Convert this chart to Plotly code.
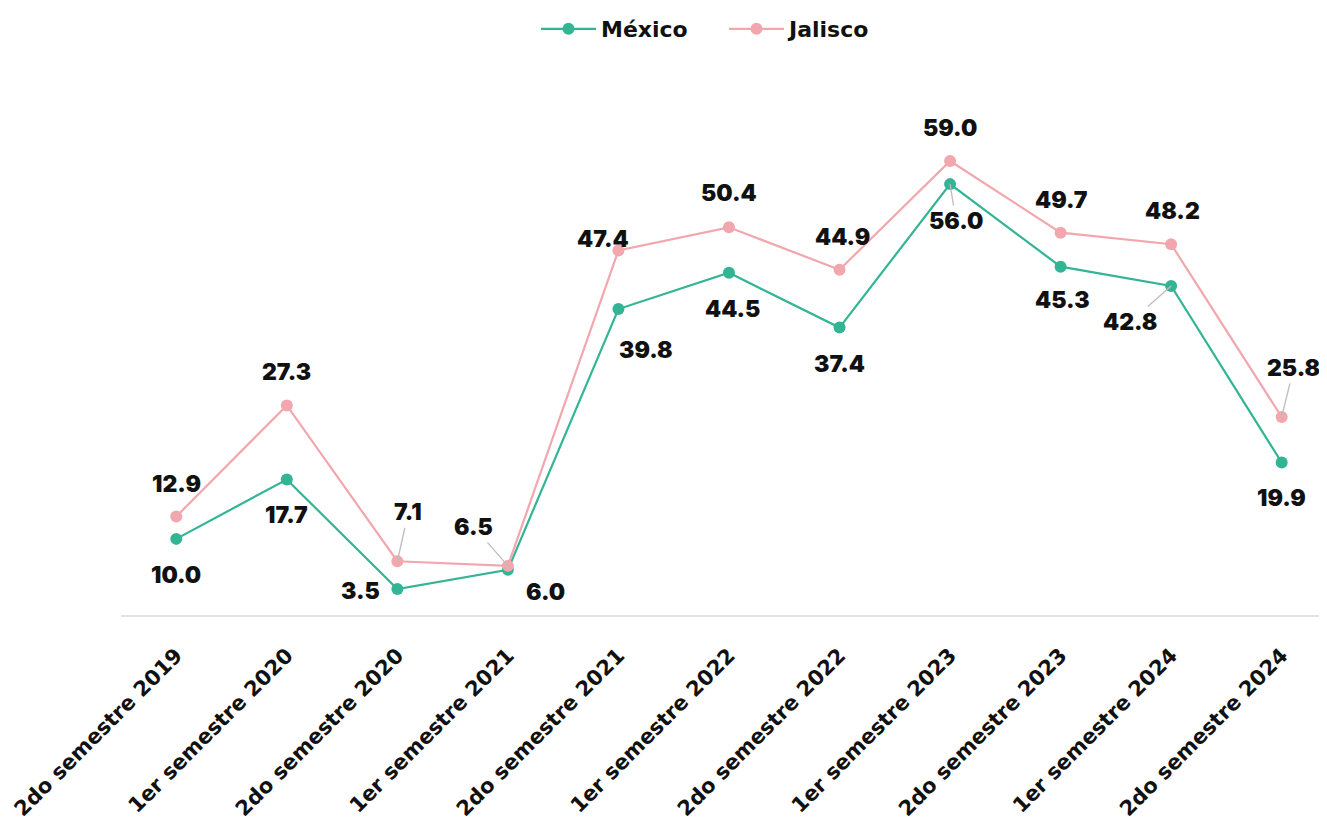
import plotly.graph_objects as go

categories = ["2do semestre 2019", "1er semestre 2020", "2do semestre 2020", "1er semestre 2021",
              "2do semestre 2021", "1er semestre 2022", "2do semestre 2022", "1er semestre 2023",
              "2do semestre 2023", "1er semestre 2024", "2do semestre 2024"]
mexico = [10.0, 17.7, 3.5, 6.0, 39.8, 44.5, 37.4, 56.0, 45.3, 42.8, 19.9]
jalisco = [12.9, 27.3, 7.1, 6.5, 47.4, 50.4, 44.9, 59.0, 49.7, 48.2, 25.8]

TEAL = "#33b595"
PINK = "#f1a7ad"
FONT = "Inter"
WIDE = "DejaVu Sans"

# label offsets (pixels): (dx, dy, leader)
mex_off = [(0, 36, False), (0, 36, False), (-37, 2, False), (38, 22, False), (28, 41, True),
           (4, 36, False), (0, 36, False), (6, 37, True), (2, 33, False), (-41, 36, True), (0, 35, False)]
jal_off = [(0, -33, False), (0, -33, False), (11, -49, True), (-34, -39, True), (-15, -11, False),
           (0, -34, False), (3, -33, False), (0, -33, False), (1, -33, False), (1, -33, False), (12, -49, True)]

fig = go.Figure()
fig.add_trace(go.Scatter(x=categories, y=mexico, name="México", mode="lines+markers",
                         line=dict(color=TEAL, width=2.2),
                         marker=dict(color=TEAL, size=12, line=dict(width=0))))
fig.add_trace(go.Scatter(x=categories, y=jalisco, name="Jalisco", mode="lines+markers",
                         line=dict(color=PINK, width=2.2),
                         marker=dict(color=PINK, size=12, line=dict(width=0))))

LBL = dict(family=FONT, size=23, color="#111111", weight=900)
ann = []
for vals, offs in ((mexico, mex_off), (jalisco, jal_off)):
    for c, v, (dx, dy, lead) in zip(categories, vals, offs):
        txt = f"{v:.1f}"
        if lead:
            ann.append(dict(x=c, y=v, text=txt, showarrow=True, arrowhead=0, arrowwidth=1.3,
                            arrowcolor="#bdbdbd", ax=dx, ay=dy, standoff=0, font=LBL))
        else:
            ann.append(dict(x=c, y=v, text=txt, showarrow=False, xshift=dx, yshift=-dy, font=LBL))

# page body has an 8px margin, so the figure is sized/offset accordingly
fig.update_layout(
    width=1319, height=819,
    paper_bgcolor="white", plot_bgcolor="white",
    margin=dict(l=113, r=0, t=72, b=211, autoexpand=False),
    font=dict(family=FONT, color="#111111"),
    showlegend=True,
    legend=dict(orientation="h", x=0.5, xanchor="center", y=1.0, yanchor="top",
                yref="container", font=dict(family=WIDE, size=22, color="#111111", weight="bold"),
                itemwidth=55, entrywidth=118, entrywidthmode="pixels", traceorder="normal"),
    annotations=ann,
    xaxis=dict(range=[-0.5, 10.41], showgrid=False, zeroline=False, showline=False, automargin=False,
               tickangle=-45, ticks="", ticklabelstandoff=22,
               tickfont=dict(family=WIDE, size=21, color="#111111", weight="bold")),
    yaxis=dict(range=[0, 69.5], showgrid=False, zeroline=True, zerolinecolor="#e3e3e3", automargin=False,
               zerolinewidth=2, showticklabels=False, showline=False, ticks=""),
)

fig.write_html("out.html")
